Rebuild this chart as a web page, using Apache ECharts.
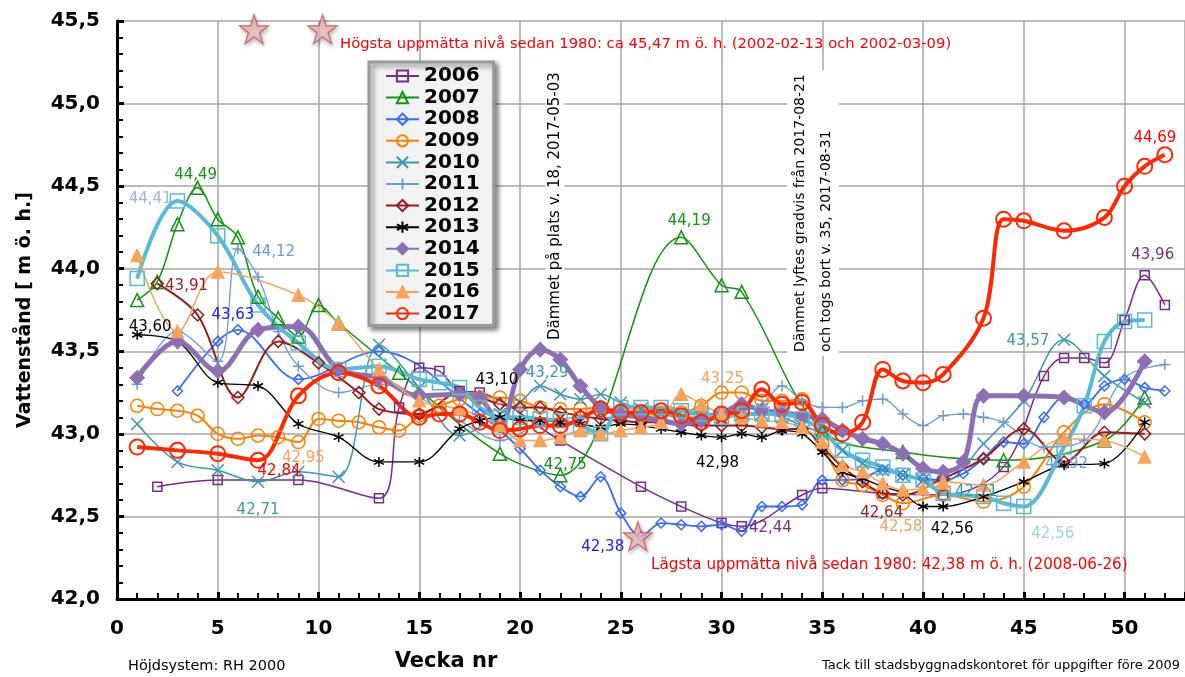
<!DOCTYPE html>
<html>
<head>
<meta charset="utf-8">
<script src="https://cdn.jsdelivr.net/npm/echarts@6/dist/echarts.min.js"></script>
<style>
  html, body { margin: 0; padding: 0; background: #fff; }
  #chart { width: 1185px; height: 677px; }
</style>
</head>
<body>
<div id="chart"></div>
<script>
// veckovärden [vecka, nivå m ö. h.]
var y2006 = [[2,42.68],[5,42.72],[9,42.72],[13,42.61],[14,43.16],[15,43.40],[16,43.38],[17,43.26],[18,43.25],[22,42.96],[26,42.68],[28,42.56],[30,42.46],[31,42.44],[34,42.63],[35,42.67],[38,42.64],[41,42.63],[44,42.80],[46,43.35],[47,43.46],[48,43.46],[49,43.43],[50,43.69],[51,43.96],[52,43.78]];
var y2007 = [[1,43.81],[2,43.92],[3,44.27],[4,44.49],[5,44.30],[6,44.19],[7,43.83],[8,43.70],[9,43.59],[10,43.78],[11,43.67],[14,43.37],[19,42.88],[22,42.75],[28,44.19],[30,43.90],[31,43.86],[35,43.02],[39,42.89],[44,42.84],[49,42.96],[51,43.22]];
var y2008 = [[3,43.26],[5,43.56],[6,43.63],[9,43.33],[13,43.50],[18,43.12],[20,42.91],[21,42.78],[22,42.68],[23,42.62],[24,42.74],[25,42.52],[26,42.38],[27,42.46],[28,42.45],[29,42.44],[30,42.45],[31,42.41],[32,42.56],[33,42.56],[34,42.57],[35,42.72],[36,42.72],[37,42.73],[38,42.78],[39,42.75],[40,42.73],[41,42.72],[42,42.76],[43,42.85],[44,42.95],[45,42.94],[46,43.10],[47,43.22],[48,43.18],[49,43.29],[50,43.33],[51,43.28],[52,43.26]];
var y2009 = [[1,43.17],[2,43.15],[3,43.14],[4,43.11],[5,43.00],[6,42.97],[7,42.99],[8,42.98],[9,42.95],[10,43.09],[11,43.08],[12,43.07],[13,43.04],[14,43.02],[15,43.11],[16,43.17],[17,43.21],[18,43.22],[19,43.22],[20,43.20],[21,43.16],[22,43.15],[23,43.15],[24,43.16],[25,43.14],[26,43.12],[27,43.12],[28,43.13],[29,43.17],[30,43.25],[31,43.25],[32,43.20],[33,43.20],[34,43.21],[35,42.94],[36,42.72],[37,42.69],[38,42.63],[39,42.58],[41,42.63],[43,42.59],[45,42.68],[47,43.01],[49,43.18],[51,43.07]];
var y2010 = [[1,43.06],[3,42.83],[5,42.78],[7,42.71],[9,42.77],[11,42.74],[13,43.54],[15,43.28],[17,42.99],[19,43.12],[20,43.19],[21,43.29],[22,43.24],[23,43.21],[24,43.24],[25,43.19],[26,43.15],[27,43.12],[28,43.10],[29,43.10],[30,43.10],[31,43.12],[32,43.12],[33,43.10],[34,43.05],[35,43.00],[36,42.90],[37,42.82],[38,42.78],[39,42.75],[40,42.72],[41,42.71],[43,42.94],[45,43.20],[47,43.57],[49,43.35],[51,43.19]];
var y2011 = [[1,43.30],[3,43.62],[5,43.44],[6,44.12],[7,43.95],[8,43.62],[9,43.41],[11,43.25],[13,43.30],[15,43.22],[17,43.08],[19,42.96],[21,43.06],[23,43.10],[25,43.10],[27,43.11],[29,43.12],[31,43.14],[32,43.18],[33,43.29],[34,43.20],[35,43.16],[36,43.16],[37,43.20],[38,43.21],[39,43.12],[40,43.05],[41,43.11],[42,43.12],[43,43.10],[44,43.07],[46,42.92],[48,42.96],[50,43.34],[52,43.42]];
var y2012 = [[2,43.91],[4,43.72],[6,43.22],[8,43.56],[10,43.43],[12,43.25],[13,43.15],[15,43.12],[17,43.25],[18,43.22],[19,43.18],[20,43.16],[21,43.16],[22,43.13],[23,43.11],[24,43.09],[25,43.08],[26,43.07],[27,43.07],[28,43.06],[29,43.05],[30,43.05],[31,43.05],[32,43.04],[33,43.03],[34,43.03],[35,42.92],[36,42.80],[37,42.71],[38,42.64],[39,42.63],[41,42.73],[43,42.85],[45,43.03],[47,42.83],[49,43.01],[51,43.00]];
var y2013 = [[1,43.60],[3,43.56],[5,43.31],[7,43.29],[9,43.06],[11,42.98],[13,42.83],[15,42.83],[17,43.03],[18,43.08],[19,43.10],[20,43.08],[21,43.08],[22,43.07],[23,43.06],[24,43.04],[25,43.06],[26,43.05],[27,43.03],[28,43.01],[29,42.99],[30,42.98],[31,43.00],[32,42.98],[33,43.02],[34,43.00],[35,42.89],[36,42.77],[37,42.73],[38,42.68],[39,42.64],[40,42.56],[41,42.56],[43,42.62],[45,42.71],[47,42.81],[49,42.82],[51,43.07]];
var y2014 = [[1,43.34],[3,43.56],[5,43.38],[7,43.63],[9,43.65],[11,43.39],[13,43.34],[15,43.23],[17,43.24],[18,43.22],[19,43.05],[20,43.39],[21,43.51],[22,43.45],[23,43.29],[24,43.16],[25,43.12],[26,43.10],[27,43.08],[28,43.06],[29,43.08],[30,43.12],[31,43.18],[32,43.14],[33,43.13],[34,43.11],[35,43.09],[36,43.02],[37,42.97],[38,42.94],[39,42.88],[40,42.79],[41,42.77],[42,42.83],[43,43.23],[45,43.23],[47,43.22],[49,43.13],[51,43.44]];
var y2015 = [[1,43.94],[3,44.41],[5,44.20],[7,43.78],[9,43.55],[11,43.39],[13,43.41],[15,43.33],[16,43.31],[17,43.28],[18,43.16],[19,43.10],[20,43.10],[21,43.09],[22,43.08],[23,43.05],[24,43.00],[25,43.16],[26,43.16],[27,43.16],[28,43.14],[29,43.12],[30,43.10],[31,43.12],[32,43.12],[33,43.12],[34,43.09],[35,43.02],[36,42.90],[37,42.84],[38,42.80],[39,42.75],[40,42.72],[41,42.64],[43,42.62],[44,42.58],[45,42.56],[47,42.92],[48,43.17],[49,43.56],[50,43.68],[51,43.69]];
var y2016 = [[1,44.08],[3,43.62],[5,43.98],[9,43.84],[11,43.67],[13,43.39],[15,43.20],[17,43.15],[19,43.05],[20,42.96],[21,42.96],[22,42.98],[23,43.02],[24,43.00],[25,43.02],[26,43.04],[27,43.07],[28,43.24],[29,43.18],[30,43.12],[31,43.10],[32,43.08],[33,43.07],[34,43.04],[35,42.95],[36,42.81],[37,42.77],[38,42.70],[39,42.66],[40,42.67],[41,42.71],[43,42.69],[45,42.83],[47,42.97],[49,42.96],[51,42.86]];
var y2017 = [[1,42.92],[3,42.90],[5,42.88],[7,42.84],[9,43.23],[11,43.37],[13,43.29],[15,43.10],[16,43.12],[17,43.12],[18,43.07],[19,43.02],[20,43.03],[21,43.05],[22,43.05],[23,43.09],[24,43.15],[25,43.13],[26,43.13],[27,43.14],[28,43.11],[29,43.07],[30,43.12],[31,43.14],[32,43.27],[33,43.18],[34,43.19],[35,43.05],[36,43.00],[37,43.07],[38,43.39],[39,43.32],[40,43.31],[41,43.36],[43,43.70],[44,44.30],[45,44.29],[47,44.23],[49,44.31],[50,44.50],[51,44.62],[52,44.69]];

// rekordnivåer sedan 1980
var records = [[6.8,45.45],[10.2,45.45],[25.85,42.38]];

// vilka punkter som har etikett: [år, vecka, läge, dx, dy, färg]
var dataLabels = [
    ['2007', 4, 'top', -2, 7],
    ['2015', 3, 'left', 7, -2, '#9bb7dc'],
    ['2011', 6, 'right', 3, 3],
    ['2012', 2, 'right', -4, 3],
    ['2008', 6, 'top', -5, 4, '#1a1aff'],
    ['2013', 1, 'top', 13, 11],
    ['2017', 7, 'right', -14, 11, '#ff0000'],
    ['2009', 9, 'bottom', 5, -4, '#f9a060'],
    ['2010', 7, 'bottom', 0, 9],
    ['2013', 19, 'top', -3, -19],
    ['2010', 21, 'top', 7, 6],
    ['2007', 22, 'top', 5, 10],
    ['2008', 26, 'left', -6, 11, '#1a1aff'],
    ['2007', 28, 'top', 8, 4],
    ['2009', 30, 'top', 1, 6, '#f9a060'],
    ['2013', 30, 'bottom', -4, 8],
    ['2006', 31, 'right', -3, 2],
    ['2012', 38, 'bottom', -1, 1],
    ['2009', 39, 'bottom', -2, 4, '#f9a060'],
    ['2013', 41, 'bottom', 9, 4],
    ['2015', 45, 'bottom', 29, 7, '#9ed3e3'],
    ['2010', 47, 'left', -3, 1],
    ['2011', 46, 'right', -10, 17],
    ['2010', 41, 'right', 0, 10],
    ['2006', 51, 'top', 8, -2],
    ['2017', 52, 'top', -10, 4, '#ff0000']
];

var SYM_X = 'path://M0,0L10,10M10,0L0,10';
var SYM_PLUS = 'path://M5,0L5,10M0,5L10,5';
var SYM_AST = 'path://M5,0L5,10M0.7,2.5L9.3,7.5M9.3,2.5L0.7,7.5';
var SYM_STAR = 'path://M50,2L61.8,37.6L99,37.6L68.9,59.5L80.4,95L50,73L19.6,95L31.1,59.5L1,37.6L38.2,37.6Z';

var FONT = 'DejaVu Sans';

// utseende per år
var years = [
    {name: '2006', data: y2006, color: '#7a2a8c', symbol: 'rect', size: 9, width: 1.5, fill: false},
    {name: '2007', data: y2007, color: '#129412', symbol: 'triangle', size: 13, width: 1.5, fill: false},
    {name: '2008', data: y2008, color: '#3a6cf6', symbol: 'diamond', size: 10, width: 1.8, fill: false},
    {name: '2009', data: y2009, color: '#ff8000', symbol: 'circle', size: 13, width: 2, fill: false},
    {name: '2010', data: y2010, color: '#3d97ad', symbol: SYM_X, size: 12, width: 1.5, fill: false},
    {name: '2011', data: y2011, color: '#6a9bd3', symbol: SYM_PLUS, size: 11, width: 1.3, fill: false},
    {name: '2012', data: y2012, color: '#9a1b1b', symbol: 'diamond', size: 12, width: 2, fill: false},
    {name: '2013', data: y2013, color: '#000000', symbol: SYM_AST, size: 10, width: 1.3, fill: false},
    {name: '2014', data: y2014, color: '#8d70b3', symbol: 'diamond', size: 14, width: 5, fill: true},
    {name: '2015', data: y2015, color: '#58bad4', symbol: 'rect', size: 14, width: 4, fill: false},
    {name: '2016', data: y2016, color: '#f9a35a', symbol: 'triangle', size: 12, width: 1.5, fill: true},
    {name: '2017', data: y2017, color: '#ff2800', symbol: 'circle', size: 15, width: 4, fill: false}
];

function comma(v, d) {
    return v.toFixed(d).replace('.', ',');
}

function makeSeries(y) {
    var items = y.data.map(function (d) {
        var item = {value: d};
        dataLabels.forEach(function (l) {
            if (l[0] === y.name && l[1] === d[0]) {
                item.label = {
                    show: true,
                    position: l[2],
                    offset: [l[3], l[4]],
                    color: l[5] || y.color
                };
            }
        });
        return item;
    });
    return {
        name: y.name,
        type: 'line',
        data: items,
        smooth: 0.35,
        symbol: y.symbol,
        symbolSize: y.size,
        showAllSymbol: true,
        lineStyle: {color: y.color, width: y.width},
        itemStyle: {
            color: y.fill ? y.color : 'rgba(255,255,255,0)',
            borderColor: y.color,
            borderWidth: y.name === '2017' ? 2 : 1.5
        },
        label: {
            show: false,
            fontFamily: FONT,
            fontSize: 15,
            distance: 5,
            formatter: function (p) { return comma(p.value[1], 2); }
        },
        emphasis: {disabled: true},
        z: 2
    };
}

var series = years.map(makeSeries);
series.push({
    name: 'rekord',
    type: 'scatter',
    data: records,
    symbol: SYM_STAR,
    symbolSize: 29,
    itemStyle: {
        color: '#f9c3c3',
        borderColor: '#c8504d',
        borderWidth: 1.2,
        shadowBlur: 4,
        shadowColor: 'rgba(0,0,0,0.35)',
        shadowOffsetX: 1,
        shadowOffsetY: 2
    },
    emphasis: {disabled: true},
    z: 5
});

var myChart = echarts.init(document.getElementById('chart'));

var option = {
    animation: false,
    backgroundColor: '#fff',
    grid: {left: 117, right: 0, top: 21, bottom: 71},
    legend: {
        data: years.map(function (y) { return y.name; }),
        orient: 'vertical',
        left: 369,
        top: 62,
        itemWidth: 33,
        itemHeight: 14,
        itemGap: 1.6,
        padding: [4, 14, 2, 16],
        backgroundColor: '#f2f2f2',
        borderColor: '#9a9a9a',
        borderWidth: 3,
        shadowBlur: 5,
        shadowColor: 'rgba(0,0,0,0.45)',
        shadowOffsetX: 3,
        shadowOffsetY: 3,
        textStyle: {fontFamily: FONT, fontSize: 20, fontWeight: 'bold', color: '#000', lineHeight: 20}
    },
    xAxis: {
        type: 'value',
        min: 0,
        max: 53,
        interval: 5,
        name: 'Vecka nr',
        nameLocation: 'middle',
        nameGap: 52,
        nameTextStyle: {fontFamily: FONT, fontSize: 21, fontWeight: 'bold', color: '#000', padding: [0, 410, 0, 0]},
        axisLine: {lineStyle: {color: '#000', width: 3}},
        axisTick: {show: true, inside: true, length: 7, lineStyle: {color: '#000', width: 3}},
        minorTick: {show: true, splitNumber: 5, length: 6, lineStyle: {color: '#000', width: 2}},
        axisLabel: {fontFamily: FONT, fontSize: 20, fontWeight: 'bold', color: '#000', margin: 20, showMaxLabel: false},
        splitLine: {show: true, lineStyle: {color: '#a6a6a6', width: 1.5}}
    },
    yAxis: {
        type: 'value',
        min: 42,
        max: 45.5,
        interval: 0.5,
        name: 'Vattenstånd [ m ö. h.]',
        nameLocation: 'middle',
        nameGap: 82,
        nameTextStyle: {fontFamily: FONT, fontSize: 19, fontWeight: 'bold', color: '#000'},
        axisLine: {show: true, lineStyle: {color: '#000', width: 3}},
        axisTick: {show: true, inside: true, length: 7, lineStyle: {color: '#000', width: 3}},
        minorTick: {show: true, splitNumber: 5, length: 6, lineStyle: {color: '#000', width: 2}},
        axisLabel: {
            fontFamily: FONT, fontSize: 20, fontWeight: 'bold', color: '#000', margin: 17,
            formatter: function (v) { return comma(v, 1); }
        },
        splitLine: {show: true, lineStyle: {color: '#a6a6a6', width: 1.5}}
    },
    graphic: [
        {
            type: 'text', x: 555, y: 344, rotation: Math.PI / 2, z: 1,
            style: {
                text: 'Dämmet på plats v. 18, 2017-05-03',
                font: '15px "DejaVu Sans"', fill: '#000',
                align: 'left', verticalAlign: 'middle',
                backgroundColor: '#fff', padding: [2, 4]
            }
        },
        {
            type: 'text', x: 813, y: 356, rotation: Math.PI / 2, z: 1,
            style: {
                text: 'Dämmet lyftes gradvis från 2017-08-21\noch togs bort v. 35, 2017-08-31',
                font: '14px "DejaVu Sans"', fill: '#000', lineHeight: 26,
                align: 'left', verticalAlign: 'middle',
                backgroundColor: '#fff', padding: [0, 4]
            }
        },
        {
            type: 'text', x: 340, y: 44, z: 3,
            style: {
                text: 'Högsta uppmätta nivå sedan 1980: ca 45,47 m ö. h. (2002-02-13 och 2002-03-09)',
                font: '14.8px "DejaVu Sans"', fill: '#ff0000',
                align: 'left', verticalAlign: 'middle'
            }
        },
        {
            type: 'text', x: 651, y: 565, z: 3,
            style: {
                text: 'Lägsta uppmätta nivå sedan 1980: 42,38 m ö. h. (2008-06-26)',
                font: '15.2px "DejaVu Sans"', fill: '#ff0000',
                align: 'left', verticalAlign: 'middle'
            }
        },
        {
            type: 'text', x: 128, y: 666,
            style: {
                text: 'Höjdsystem: RH 2000',
                font: '14.5px "DejaVu Sans"', fill: '#000',
                align: 'left', verticalAlign: 'middle'
            }
        },
        {
            type: 'text', x: 1180, y: 666,
            style: {
                text: 'Tack till stadsbyggnadskontoret för uppgifter före 2009',
                font: '13px "DejaVu Sans"', fill: '#000',
                align: 'right', verticalAlign: 'middle'
            }
        }
    ],
    series: series
};

myChart.setOption(option);
</script>
</body>
</html>
